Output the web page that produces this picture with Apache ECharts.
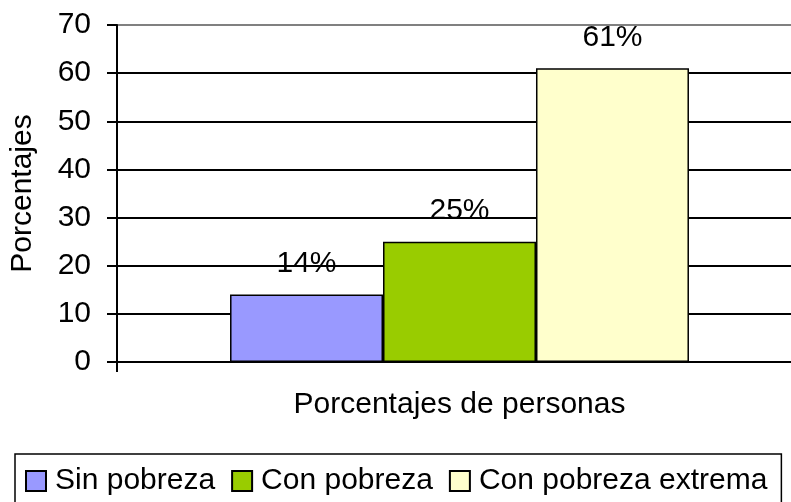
<!DOCTYPE html>
<html>
<head>
<meta charset="utf-8">
<script src="https://cdn.jsdelivr.net/npm/echarts@6/dist/echarts.min.js"></script>
<style>html,body{margin:0;padding:0;background:#fff;overflow:hidden;width:791px;height:502px;}#c{width:802px;height:502px;}</style>
</head>
<body>
<div id="c"></div>
<script>
const categories = [''];
const xAxisTitle = 'Porcentajes de personas';
const yAxisTitle = 'Porcentajes';
const seriesNames = ['Sin pobreza', 'Con pobreza', 'Con pobreza extrema'];
const sinPobreza = [14];
const conPobreza = [25];
const conPobrezaExtrema = [61];
const seriesColors = ['#9999FF', '#99CC00', '#FFFFCC'];
const yMin = 0, yMax = 70, yStep = 10;

const FONT = "'Liberation Sans', Arial, sans-serif";
const values = [sinPobreza, conPobreza, conPobrezaExtrema];

const chart = echarts.init(document.getElementById('c'));
chart.setOption({
  animation: false,
  backgroundColor: '#fff',
  textStyle: { fontFamily: FONT, color: '#000' },
  grid: { left: 116, top: 25, right: 0, height: 337, containLabel: false },
  legend: {
    left: 15, top: 454,
    padding: [12, 14, 11, 10],
    borderColor: '#000', borderWidth: 1.5,
    itemWidth: 20, itemHeight: 20, itemGap: 16,
    icon: 'rect',
    textStyle: { fontFamily: FONT, fontSize: 30, color: '#000', padding: [0, 0, 0, 4] },
    data: seriesNames
  },
  xAxis: {
    type: 'category',
    data: categories,
    name: xAxisTitle,
    nameLocation: 'middle',
    nameGap: 28,
    nameTextStyle: { fontFamily: FONT, fontSize: 30, color: '#000' },
    axisLine: { lineStyle: { color: '#000', width: 2 } },
    axisTick: { show: true, length: 10, lineStyle: { color: '#000', width: 2 } },
    axisLabel: { show: false }
  },
  yAxis: {
    type: 'value',
    min: yMin, max: yMax, interval: yStep,
    name: yAxisTitle,
    nameLocation: 'middle',
    nameGap: 79,
    nameTextStyle: { fontFamily: FONT, fontSize: 30, color: '#000' },
    axisLine: { show: true, lineStyle: { color: '#000', width: 2 } },
    axisTick: { show: true, length: 10, lineStyle: { color: '#000', width: 2 } },
    axisLabel: { fontFamily: FONT, fontSize: 30, color: '#000', margin: 26 },
    splitLine: { show: true, lineStyle: { color: ['#000','#000','#000','#000','#000','#000','#000','#808080'], width: 2 } }
  },
  series: seriesNames.map((n, i) => ({
    name: n,
    type: 'bar',
    data: values[i],
    barGap: '0%',
    barCategoryGap: '33%',
    itemStyle: { color: seriesColors[i], borderColor: '#000', borderWidth: 1.5 },
    label: {
      show: true, position: 'top', distance: 16,
      formatter: '{c}%',
      fontFamily: FONT, fontSize: 30, color: '#000'
    }
  }))
});
</script>
</body>
</html>
